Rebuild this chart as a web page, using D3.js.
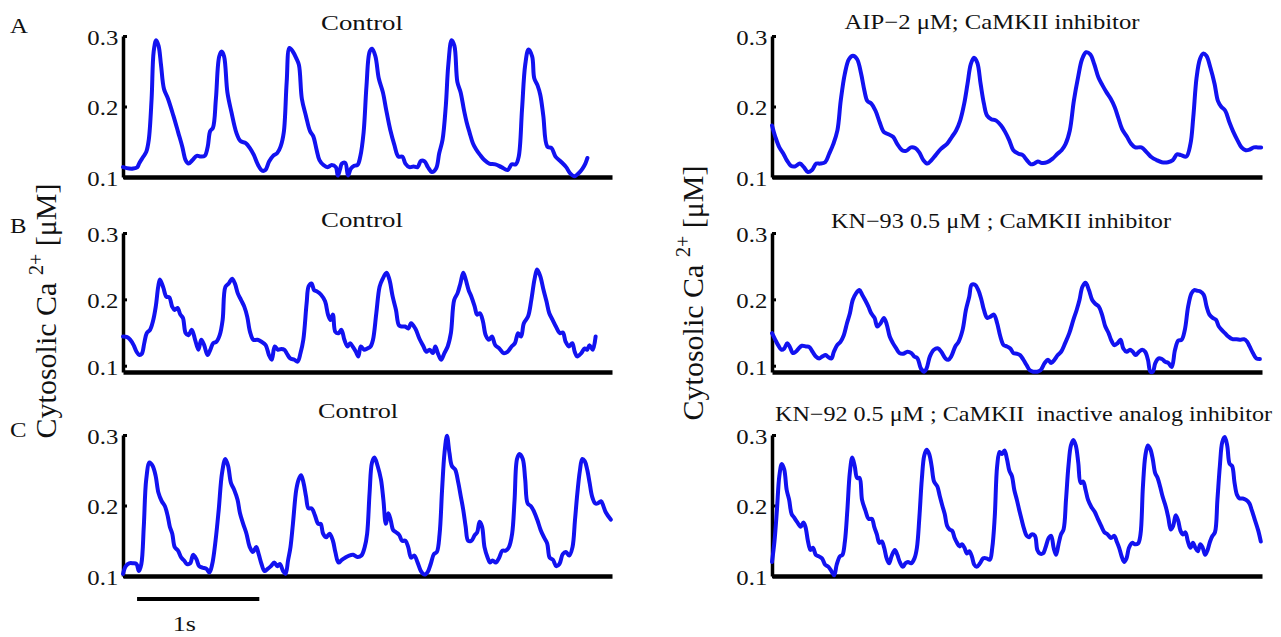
<!DOCTYPE html>
<html>
<head>
<meta charset="utf-8">
<script src="https://cdn.jsdelivr.net/npm/d3@7/dist/d3.min.js"></script>
<style>
  html, body { margin: 0; padding: 0; background: #fff; }
  svg { display: block; }
  text { font-family: "Liberation Serif", "Times New Roman", serif; fill: #111; }
</style>
</head>
<body>
<svg id="chart" width="1281" height="637"></svg>
<script>
// ---------------- DATA (time in s, cytosolic Ca2+ in µM) ----------------
const yTicks = [0.1, 0.2, 0.3];
const panelLetters = ["A", "B", "C"];
const titles = [
  "Control",
  "AIP\u22122 \u03bcM; CaMKII inhibitor",
  "Control",
  "KN\u221293 0.5 \u03bcM ; CaMKII inhibitor",
  "Control",
  "KN\u221292 0.5 \u03bcM ; CaMKII  inactive analog inhibitor"
];
const yLabelMain = "Cytosolic Ca ";
const yLabelSup = "2+";
const yLabelUnit = " [\u03bcM]";
const scaleBarLabel = "1s";
const scaleBarSeconds = 1;

const controlA = [[0,0.114],[0.05,0.112],[0.084,0.112],[0.117,0.114],[0.134,0.120],[0.167,0.129],[0.191,0.136],[0.211,0.153],[0.234,0.211],[0.251,0.278],[0.271,0.294],[0.291,0.286],[0.311,0.259],[0.335,0.225],[0.368,0.211],[0.412,0.187],[0.452,0.163],[0.485,0.143],[0.512,0.124],[0.536,0.119],[0.569,0.124],[0.603,0.130],[0.636,0.129],[0.669,0.130],[0.693,0.143],[0.713,0.165],[0.736,0.170],[0.760,0.211],[0.787,0.271],[0.807,0.278],[0.827,0.271],[0.854,0.220],[0.887,0.192],[0.927,0.163],[0.961,0.151],[1.004,0.148],[1.038,0.141],[1.071,0.131],[1.105,0.117],[1.138,0.109],[1.165,0.110],[1.195,0.122],[1.228,0.130],[1.262,0.134],[1.289,0.143],[1.315,0.163],[1.339,0.235],[1.362,0.283],[1.389,0.278],[1.416,0.269],[1.439,0.259],[1.463,0.211],[1.496,0.187],[1.530,0.165],[1.556,0.158],[1.583,0.139],[1.607,0.124],[1.640,0.117],[1.674,0.114],[1.707,0.117],[1.741,0.114],[1.757,0.102],[1.774,0.110],[1.791,0.119],[1.818,0.120],[1.841,0.102],[1.864,0.112],[1.891,0.116],[1.918,0.117],[1.941,0.129],[1.968,0.163],[1.992,0.230],[2.018,0.278],[2.038,0.282],[2.065,0.271],[2.092,0.240],[2.126,0.220],[2.152,0.196],[2.186,0.167],[2.219,0.146],[2.253,0.129],[2.286,0.129],[2.310,0.119],[2.343,0.114],[2.377,0.115],[2.410,0.114],[2.437,0.123],[2.467,0.122],[2.494,0.114],[2.527,0.107],[2.561,0.112],[2.587,0.134],[2.614,0.153],[2.641,0.202],[2.661,0.259],[2.688,0.294],[2.711,0.286],[2.735,0.235],[2.762,0.220],[2.788,0.196],[2.812,0.177],[2.835,0.163],[2.862,0.148],[2.889,0.139],[2.922,0.131],[2.956,0.124],[2.996,0.119],[3.046,0.118],[3.096,0.114],[3.146,0.110],[3.180,0.118],[3.213,0.118],[3.237,0.129],[3.264,0.196],[3.290,0.259],[3.317,0.281],[3.347,0.271],[3.364,0.240],[3.391,0.230],[3.414,0.216],[3.438,0.187],[3.471,0.143],[3.505,0.141],[3.538,0.129],[3.581,0.122],[3.625,0.114],[3.658,0.105],[3.692,0.101],[3.725,0.105],[3.759,0.112],[3.782,0.119],[3.799,0.127]];

const aipA = [[0,0.173],[0.027,0.157],[0.060,0.142],[0.093,0.133],[0.120,0.124],[0.154,0.116],[0.187,0.115],[0.227,0.119],[0.260,0.114],[0.294,0.107],[0.327,0.110],[0.361,0.119],[0.394,0.119],[0.434,0.121],[0.467,0.133],[0.501,0.147],[0.534,0.166],[0.561,0.208],[0.594,0.246],[0.628,0.267],[0.661,0.272],[0.695,0.267],[0.728,0.246],[0.755,0.222],[0.778,0.208],[0.811,0.204],[0.845,0.194],[0.878,0.178],[0.912,0.164],[0.945,0.161],[0.988,0.157],[1.022,0.147],[1.062,0.138],[1.095,0.137],[1.135,0.142],[1.169,0.141],[1.202,0.135],[1.235,0.124],[1.269,0.119],[1.302,0.124],[1.336,0.131],[1.379,0.140],[1.429,0.147],[1.469,0.157],[1.503,0.166],[1.536,0.180],[1.569,0.204],[1.596,0.232],[1.623,0.260],[1.649,0.269],[1.676,0.262],[1.703,0.232],[1.730,0.204],[1.756,0.187],[1.790,0.182],[1.830,0.180],[1.870,0.173],[1.903,0.164],[1.937,0.152],[1.970,0.138],[2.013,0.133],[2.047,0.131],[2.080,0.124],[2.114,0.118],[2.140,0.119],[2.170,0.122],[2.204,0.120],[2.247,0.121],[2.291,0.126],[2.331,0.133],[2.364,0.138],[2.397,0.147],[2.431,0.166],[2.464,0.208],[2.498,0.241],[2.531,0.267],[2.564,0.277],[2.598,0.274],[2.631,0.260],[2.665,0.241],[2.698,0.230],[2.731,0.220],[2.765,0.211],[2.798,0.199],[2.825,0.185],[2.858,0.168],[2.898,0.157],[2.932,0.147],[2.965,0.142],[3.015,0.142],[3.059,0.135],[3.099,0.128],[3.139,0.124],[3.182,0.121],[3.232,0.121],[3.272,0.124],[3.306,0.132],[3.339,0.131],[3.382,0.129],[3.416,0.147],[3.439,0.185],[3.466,0.241],[3.493,0.267],[3.519,0.275],[3.546,0.272],[3.579,0.255],[3.613,0.232],[3.640,0.208],[3.666,0.200],[3.700,0.194],[3.733,0.178],[3.766,0.164],[3.800,0.152],[3.833,0.142],[3.867,0.138],[3.900,0.139],[3.933,0.142],[3.967,0.142],[3.993,0.142]];

const controlB = [[0,0.144],[0.034,0.143],[0.060,0.139],[0.087,0.131],[0.111,0.121],[0.134,0.116],[0.154,0.118],[0.174,0.134],[0.194,0.149],[0.221,0.154],[0.245,0.167],[0.268,0.189],[0.288,0.219],[0.302,0.230],[0.329,0.218],[0.355,0.204],[0.379,0.203],[0.402,0.189],[0.422,0.184],[0.446,0.187],[0.469,0.177],[0.490,0.172],[0.513,0.149],[0.536,0.146],[0.563,0.154],[0.590,0.139],[0.617,0.124],[0.640,0.139],[0.664,0.131],[0.691,0.116],[0.714,0.124],[0.738,0.134],[0.764,0.136],[0.791,0.146],[0.815,0.169],[0.838,0.219],[0.865,0.224],[0.892,0.231],[0.915,0.224],[0.939,0.209],[0.966,0.199],[0.992,0.189],[1.016,0.174],[1.039,0.151],[1.066,0.139],[1.100,0.139],[1.133,0.136],[1.167,0.131],[1.194,0.116],[1.217,0.109],[1.241,0.129],[1.267,0.124],[1.294,0.125],[1.321,0.124],[1.341,0.118],[1.368,0.111],[1.402,0.109],[1.428,0.106],[1.452,0.119],[1.475,0.139],[1.502,0.194],[1.519,0.220],[1.542,0.224],[1.563,0.214],[1.586,0.212],[1.620,0.207],[1.653,0.197],[1.677,0.177],[1.697,0.169],[1.717,0.177],[1.737,0.151],[1.764,0.149],[1.787,0.154],[1.811,0.139],[1.837,0.129],[1.858,0.134],[1.878,0.129],[1.905,0.121],[1.925,0.114],[1.945,0.129],[1.972,0.124],[1.998,0.126],[2.025,0.129],[2.045,0.139],[2.072,0.179],[2.099,0.219],[2.122,0.230],[2.156,0.240],[2.179,0.230],[2.206,0.204],[2.233,0.184],[2.257,0.161],[2.280,0.159],[2.307,0.159],[2.334,0.156],[2.357,0.164],[2.391,0.156],[2.424,0.141],[2.458,0.129],[2.481,0.121],[2.508,0.124],[2.535,0.119],[2.555,0.129],[2.575,0.119],[2.602,0.109],[2.629,0.119],[2.656,0.129],[2.682,0.149],[2.709,0.199],[2.736,0.209],[2.760,0.224],[2.783,0.240],[2.803,0.230],[2.827,0.214],[2.850,0.204],[2.877,0.189],[2.897,0.177],[2.920,0.179],[2.944,0.167],[2.967,0.146],[2.994,0.139],[3.018,0.144],[3.045,0.131],[3.078,0.126],[3.112,0.119],[3.145,0.121],[3.179,0.129],[3.206,0.134],[3.232,0.149],[3.256,0.144],[3.279,0.164],[3.313,0.174],[3.340,0.199],[3.366,0.230],[3.387,0.245],[3.413,0.235],[3.440,0.214],[3.464,0.197],[3.487,0.179],[3.514,0.169],[3.541,0.159],[3.574,0.149],[3.598,0.150],[3.621,0.136],[3.648,0.129],[3.675,0.134],[3.695,0.121],[3.715,0.114],[3.749,0.119],[3.776,0.126],[3.796,0.124],[3.816,0.131],[3.842,0.124],[3.866,0.144]];

const kn93B = [[0,0.149],[0.027,0.139],[0.050,0.131],[0.077,0.124],[0.100,0.126],[0.124,0.134],[0.144,0.129],[0.171,0.119],[0.194,0.121],[0.218,0.126],[0.244,0.130],[0.278,0.129],[0.305,0.128],[0.331,0.121],[0.358,0.114],[0.385,0.111],[0.412,0.114],[0.438,0.116],[0.459,0.113],[0.485,0.111],[0.505,0.121],[0.532,0.131],[0.559,0.136],[0.586,0.146],[0.612,0.164],[0.636,0.179],[0.659,0.199],[0.686,0.209],[0.713,0.214],[0.736,0.207],[0.760,0.199],[0.787,0.189],[0.810,0.179],[0.837,0.172],[0.860,0.159],[0.887,0.164],[0.914,0.172],[0.937,0.162],[0.961,0.144],[0.987,0.134],[1.014,0.126],[1.041,0.119],[1.071,0.118],[1.105,0.121],[1.138,0.119],[1.161,0.114],[1.188,0.111],[1.215,0.096],[1.242,0.091],[1.262,0.096],[1.289,0.114],[1.322,0.124],[1.356,0.126],[1.382,0.121],[1.416,0.111],[1.439,0.109],[1.463,0.114],[1.496,0.129],[1.523,0.136],[1.556,0.154],[1.583,0.184],[1.610,0.204],[1.630,0.222],[1.657,0.222],[1.684,0.214],[1.710,0.199],[1.730,0.184],[1.757,0.172],[1.784,0.174],[1.811,0.177],[1.838,0.164],[1.864,0.144],[1.891,0.131],[1.918,0.129],[1.945,0.126],[1.971,0.119],[1.998,0.118],[2.025,0.116],[2.052,0.109],[2.078,0.101],[2.105,0.093],[2.132,0.091],[2.166,0.091],[2.192,0.093],[2.226,0.104],[2.253,0.109],[2.279,0.104],[2.306,0.109],[2.333,0.116],[2.360,0.121],[2.393,0.134],[2.427,0.149],[2.460,0.169],[2.487,0.184],[2.510,0.199],[2.534,0.219],[2.560,0.225],[2.587,0.214],[2.614,0.199],[2.641,0.193],[2.668,0.189],[2.694,0.177],[2.721,0.159],[2.748,0.149],[2.768,0.139],[2.795,0.131],[2.822,0.134],[2.845,0.139],[2.868,0.126],[2.895,0.121],[2.922,0.124],[2.945,0.121],[2.969,0.116],[2.996,0.121],[3.022,0.124],[3.046,0.121],[3.069,0.109],[3.089,0.091],[3.109,0.091],[3.129,0.104],[3.156,0.111],[3.183,0.110],[3.210,0.106],[3.237,0.104],[3.263,0.098],[3.290,0.124],[3.317,0.138],[3.344,0.139],[3.370,0.154],[3.397,0.189],[3.424,0.209],[3.447,0.214],[3.471,0.213],[3.497,0.212],[3.524,0.207],[3.548,0.189],[3.571,0.177],[3.598,0.172],[3.625,0.169],[3.648,0.159],[3.671,0.154],[3.698,0.149],[3.725,0.144],[3.759,0.140],[3.792,0.140],[3.826,0.139],[3.853,0.140],[3.879,0.136],[3.899,0.129],[3.926,0.119],[3.953,0.111],[3.983,0.110]];

const controlC = [[0,0.103],[0.023,0.114],[0.050,0.118],[0.083,0.118],[0.110,0.117],[0.130,0.107],[0.150,0.117],[0.170,0.170],[0.190,0.237],[0.217,0.261],[0.243,0.256],[0.267,0.242],[0.290,0.218],[0.317,0.206],[0.343,0.199],[0.367,0.184],[0.383,0.170],[0.403,0.160],[0.423,0.141],[0.450,0.136],[0.477,0.126],[0.500,0.122],[0.523,0.117],[0.550,0.118],[0.573,0.130],[0.600,0.124],[0.623,0.114],[0.650,0.112],[0.683,0.110],[0.707,0.105],[0.730,0.117],[0.757,0.150],[0.783,0.194],[0.810,0.246],[0.837,0.266],[0.860,0.256],[0.883,0.232],[0.910,0.222],[0.937,0.208],[0.957,0.189],[0.983,0.174],[1.010,0.160],[1.037,0.141],[1.063,0.134],[1.090,0.141],[1.110,0.131],[1.133,0.117],[1.157,0.107],[1.183,0.110],[1.210,0.114],[1.237,0.119],[1.263,0.114],[1.283,0.117],[1.310,0.107],[1.330,0.103],[1.350,0.122],[1.370,0.141],[1.390,0.174],[1.417,0.222],[1.437,0.237],[1.457,0.243],[1.477,0.232],[1.497,0.213],[1.517,0.196],[1.543,0.196],[1.570,0.186],[1.597,0.174],[1.617,0.174],[1.637,0.160],[1.663,0.155],[1.690,0.160],[1.717,0.150],[1.737,0.134],[1.763,0.119],[1.790,0.123],[1.817,0.126],[1.850,0.129],[1.883,0.130],[1.917,0.127],[1.950,0.129],[1.977,0.141],[1.997,0.160],[2.017,0.218],[2.037,0.261],[2.057,0.268],[2.083,0.256],[2.110,0.237],[2.130,0.208],[2.150,0.174],[2.170,0.189],[2.190,0.179],[2.210,0.165],[2.233,0.162],[2.260,0.158],[2.283,0.150],[2.310,0.150],[2.333,0.141],[2.357,0.126],[2.383,0.129],[2.410,0.119],[2.437,0.107],[2.467,0.102],[2.493,0.106],[2.517,0.117],[2.543,0.131],[2.567,0.134],[2.590,0.160],[2.610,0.222],[2.630,0.275],[2.650,0.299],[2.670,0.275],[2.690,0.256],[2.717,0.251],[2.743,0.232],[2.763,0.213],[2.783,0.194],[2.803,0.170],[2.823,0.150],[2.850,0.150],[2.877,0.158],[2.897,0.162],[2.917,0.177],[2.937,0.170],[2.957,0.141],[2.983,0.126],[3.003,0.119],[3.023,0.122],[3.050,0.119],[3.077,0.126],[3.103,0.136],[3.130,0.136],[3.157,0.141],[3.183,0.160],[3.203,0.208],[3.223,0.266],[3.243,0.273],[3.270,0.266],[3.290,0.237],[3.310,0.203],[3.337,0.199],[3.363,0.191],[3.390,0.179],[3.417,0.165],[3.443,0.155],[3.470,0.146],[3.490,0.126],[3.517,0.123],[3.543,0.114],[3.570,0.117],[3.597,0.131],[3.623,0.134],[3.650,0.129],[3.677,0.141],[3.697,0.179],[3.717,0.218],[3.737,0.249],[3.757,0.266],[3.777,0.263],[3.797,0.251],[3.817,0.232],[3.837,0.213],[3.863,0.203],[3.883,0.203],[3.910,0.206],[3.930,0.199],[3.950,0.190],[3.990,0.180]];

const kn92C = [[0,0.120],[0.020,0.149],[0.040,0.193],[0.060,0.242],[0.080,0.259],[0.100,0.251],[0.120,0.222],[0.140,0.208],[0.160,0.188],[0.180,0.183],[0.207,0.176],[0.234,0.170],[0.257,0.176],[0.274,0.169],[0.294,0.149],[0.314,0.137],[0.334,0.140],[0.358,0.130],[0.381,0.128],[0.408,0.125],[0.434,0.116],[0.461,0.113],[0.488,0.106],[0.508,0.101],[0.528,0.116],[0.555,0.128],[0.575,0.130],[0.595,0.149],[0.615,0.193],[0.635,0.246],[0.655,0.268],[0.675,0.256],[0.695,0.239],[0.715,0.239],[0.735,0.208],[0.762,0.193],[0.789,0.181],[0.815,0.181],[0.836,0.169],[0.856,0.159],[0.876,0.147],[0.896,0.149],[0.916,0.140],[0.936,0.125],[0.956,0.118],[0.976,0.128],[1.003,0.137],[1.023,0.130],[1.043,0.120],[1.069,0.113],[1.089,0.118],[1.110,0.120],[1.136,0.118],[1.163,0.125],[1.183,0.140],[1.203,0.183],[1.223,0.237],[1.243,0.271],[1.263,0.279],[1.283,0.273],[1.303,0.256],[1.323,0.234],[1.350,0.227],[1.370,0.213],[1.390,0.200],[1.410,0.188],[1.430,0.171],[1.450,0.166],[1.471,0.164],[1.491,0.154],[1.511,0.147],[1.531,0.142],[1.551,0.145],[1.571,0.140],[1.591,0.132],[1.611,0.135],[1.631,0.128],[1.651,0.116],[1.671,0.113],[1.698,0.118],[1.724,0.125],[1.751,0.125],[1.778,0.123],[1.798,0.140],[1.818,0.183],[1.838,0.256],[1.858,0.276],[1.878,0.273],[1.898,0.278],[1.918,0.266],[1.938,0.249],[1.958,0.242],[1.978,0.222],[1.999,0.208],[2.019,0.193],[2.039,0.179],[2.059,0.166],[2.079,0.157],[2.099,0.155],[2.119,0.159],[2.146,0.157],[2.166,0.137],[2.186,0.132],[2.212,0.132],[2.232,0.140],[2.259,0.154],[2.279,0.157],[2.299,0.140],[2.319,0.130],[2.339,0.145],[2.359,0.159],[2.380,0.166],[2.400,0.208],[2.420,0.256],[2.440,0.285],[2.460,0.293],[2.480,0.285],[2.500,0.261],[2.520,0.232],[2.540,0.234],[2.560,0.222],[2.580,0.208],[2.607,0.198],[2.634,0.191],[2.660,0.181],[2.687,0.171],[2.714,0.162],[2.740,0.159],[2.767,0.154],[2.794,0.157],[2.814,0.149],[2.834,0.140],[2.854,0.128],[2.874,0.120],[2.894,0.125],[2.914,0.140],[2.941,0.147],[2.961,0.145],[2.988,0.146],[3.008,0.159],[3.028,0.227],[3.048,0.271],[3.068,0.285],[3.088,0.280],[3.108,0.266],[3.128,0.246],[3.148,0.239],[3.168,0.227],[3.188,0.213],[3.215,0.198],[3.235,0.183],[3.255,0.166],[3.275,0.171],[3.295,0.186],[3.315,0.179],[3.335,0.164],[3.355,0.159],[3.375,0.162],[3.395,0.149],[3.416,0.140],[3.436,0.147],[3.456,0.140],[3.476,0.135],[3.496,0.145],[3.516,0.140],[3.536,0.130],[3.556,0.137],[3.576,0.149],[3.596,0.157],[3.616,0.162],[3.636,0.208],[3.656,0.256],[3.676,0.290],[3.696,0.297],[3.716,0.285],[3.736,0.259],[3.756,0.256],[3.776,0.232],[3.796,0.215],[3.817,0.210],[3.843,0.210],[3.870,0.208],[3.897,0.203],[3.917,0.193],[3.943,0.179],[3.970,0.164],[3.990,0.149]];

// ---------------- LAYOUT ----------------
const timeDomain = [0, 4];
const cols = [{x0: 123, x1: 612}, {x0: 772, x1: 1262}];
const rows = [
  {y0: 36, y1: 177, dom: [0.1, 0.3]},
  {y0: 233, y1: 372, dom: [0.0905, 0.3]},
  {y0: 435, y1: 576, dom: [0.1, 0.3]}
];
const panels = [
  {data: controlA, r: 0, c: 0, title: titles[0], tx: 362, ty: 30, tw: 82, anchor: "middle"},
  {data: aipA,     r: 0, c: 1, title: titles[1], tx: 992, ty: 29, tw: 295, anchor: "middle"},
  {data: controlB, r: 1, c: 0, title: titles[2], tx: 362, ty: 227, tw: 82, anchor: "middle"},
  {data: kn93B,    r: 1, c: 1, title: titles[3], tx: 1001, ty: 228, tw: 340, anchor: "middle"},
  {data: controlC, r: 2, c: 0, title: titles[4], tx: 358, ty: 418, tw: 80, anchor: "middle"},
  {data: kn92C,    r: 2, c: 1, title: titles[5], tx: 775, ty: 421, tw: 497, anchor: "start"}
];
const STRETCH = 1.18;
const lineColor = "#1212f0";

const svg = d3.select("#chart");

panels.forEach(p => {
  const row = rows[p.r], col = cols[p.c];
  const x = d3.scaleLinear().domain(timeDomain).range([col.x0, col.x1]);
  const y = d3.scaleLinear().domain(row.dom).range([row.y1, row.y0]);
  p.x = x; p.y = y;

  // y axis
  const ya = svg.append("g").attr("transform", `translate(${col.x0},0)`)
    .call(d3.axisLeft(y).tickValues(yTicks).tickSize(-4).tickSizeOuter(0)
      .tickPadding(4).tickFormat(d3.format(".1f")));
  ya.attr("font-family", null);
  ya.select(".domain").attr("stroke", "#000").attr("stroke-width", 3.5);
  ya.selectAll(".tick line").attr("stroke", "#000").attr("stroke-width", 3);
  ya.selectAll(".tick text")
    .attr("font-size", 21).attr("fill", "#111")
    .attr("dy", "0.4em")
    .attr("transform", `scale(${STRETCH},1)`);

  // x axis (no ticks)
  const xa = svg.append("g").attr("transform", `translate(0,${row.y1})`)
    .call(d3.axisBottom(x).tickValues([]).tickSizeOuter(0));
  xa.select(".domain").attr("stroke", "#000").attr("stroke-width", 4.5);

  // trace
  const line = d3.line().x(d => x(d[0])).y(d => y(d[1]))
    .curve(d3.curveCatmullRom.alpha(0.5));
  svg.append("path").datum(p.data)
    .attr("d", line)
    .attr("fill", "none")
    .attr("stroke", lineColor)
    .attr("stroke-width", 4)
    .attr("stroke-linejoin", "round")
    .attr("stroke-linecap", "round");

  // title
  svg.append("text")
    .attr("x", p.tx).attr("y", p.ty)
    .attr("text-anchor", p.anchor)
    .attr("font-size", 21)
    .attr("textLength", p.tw)
    .attr("lengthAdjust", "spacingAndGlyphs")
    .style("white-space", "pre")
    .text(p.title);
});

// panel letters
const letterY = [33, 233, 437];
panelLetters.forEach((L, i) => {
  svg.append("text")
    .attr("transform", `translate(10,${letterY[i]}) scale(${STRETCH},1)`)
    .attr("font-size", 21).text(L);
});

// y-axis labels
function yLabel(cx, cy) {
  const t = svg.append("text")
    .attr("transform", `translate(${cx},${cy}) rotate(-90)`)
    .attr("text-anchor", "middle")
    .attr("font-size", 30)
    .style("white-space", "pre");
  t.append("tspan").text(yLabelMain);
  t.append("tspan").attr("font-size", 20).attr("dy", -13).text(yLabelSup);
  t.append("tspan").attr("dy", 13).text(yLabelUnit);
}
yLabel(56, 311);
yLabel(703, 293);

// scale bar (1 s) under panel C control
const pc = panels[4];
const barStart = 0.115;
svg.append("line")
  .attr("x1", pc.x(barStart)).attr("x2", pc.x(barStart + scaleBarSeconds))
  .attr("y1", 599).attr("y2", 599)
  .attr("stroke", "#000").attr("stroke-width", 4);
svg.append("text")
  .attr("transform", `translate(${(pc.x(barStart) + pc.x(barStart + scaleBarSeconds)) / 2 - 14},631) scale(${STRETCH},1)`)
  .attr("text-anchor", "middle")
  .attr("font-size", 22)
  .text(scaleBarLabel);
</script>
</body>
</html>
